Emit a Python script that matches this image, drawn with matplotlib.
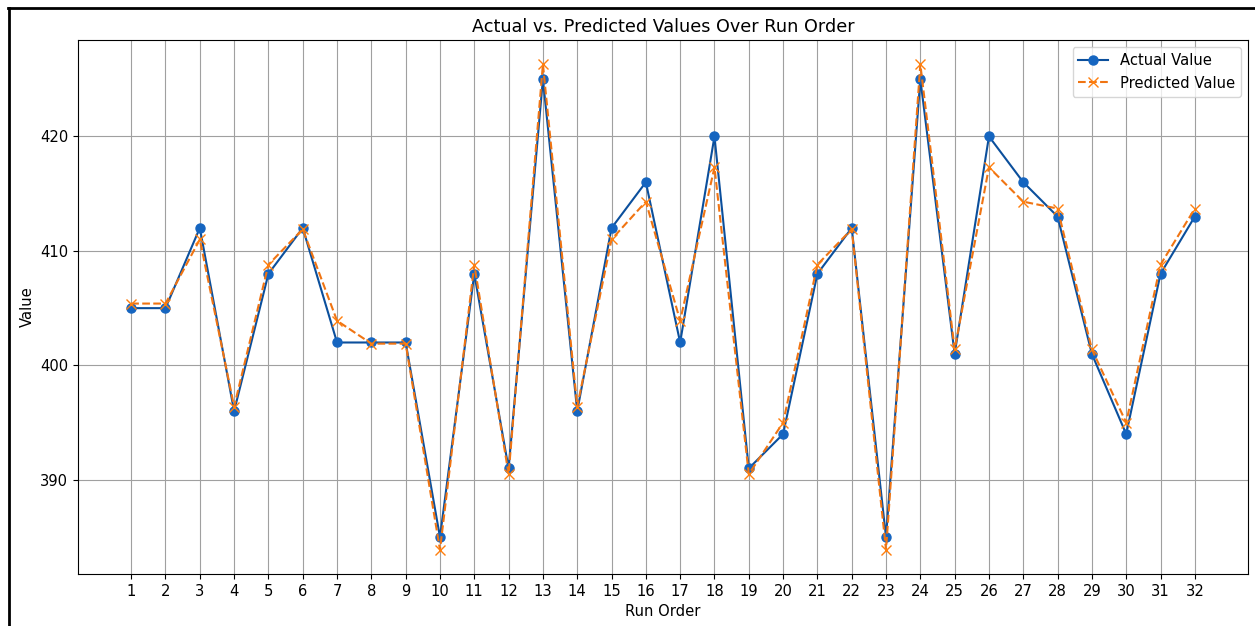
import matplotlib
matplotlib.use("Agg")
import matplotlib.pyplot as plt
from matplotlib.lines import Line2D

run_order = list(range(1, 33))

actual = [405, 405, 412, 396, 408, 412, 402, 402, 402, 385,
          408, 391, 425, 396, 412, 416, 402, 420, 391, 394,
          408, 412, 385, 425, 401, 420, 416, 413, 401, 394,
          408, 413]

predicted = [405.4, 405.4, 411.0, 396.4, 408.8, 411.9, 403.9, 401.9, 401.9, 383.9,
             408.8, 390.5, 426.3, 396.4, 411.0, 414.3, 403.9, 417.3, 390.5, 395.0,
             408.8, 411.9, 383.9, 426.3, 401.4, 417.3, 414.3, 413.7, 401.4, 395.0,
             408.8, 413.7]

ACTUAL_LINE = "#0b4f9c"
ACTUAL_MARK = "#1565c0"
PRED_LINE = "#f07412"
PRED_MARK = "#ff7f0e"

plt.rcParams["font.size"] = 10.6


def main():
    fig = plt.figure(figsize=(12.55, 6.26), dpi=100)
    ax = fig.add_axes([78 / 1255, 1 - 574 / 626, (1248 - 78) / 1255, (574 - 40) / 626])

    ax.plot(run_order, actual, marker="o", linestyle="-", color=ACTUAL_LINE,
            markerfacecolor=ACTUAL_MARK, markeredgecolor=ACTUAL_MARK,
            linewidth=1.5, markersize=6.5, label="Actual Value")
    ax.plot(run_order, predicted, marker="x", linestyle="--", color=PRED_LINE,
            markeredgecolor=PRED_MARK, linewidth=1.5, markersize=6.5,
            label="Predicted Value")

    ax.set_title("Actual vs. Predicted Values Over Run Order", fontsize=12.7)
    ax.set_xlabel("Run Order")
    ax.set_ylabel("Value")
    ax.set_xticks(run_order)
    ax.grid(True, color="#a0a0a0")
    ax.legend(loc="upper right")

    # screenshot frame on top and left
    fig.add_artist(Line2D([8 / 1255, 1.0], [1 - 8 / 626, 1 - 8 / 626],
                          transform=fig.transFigure, color="black", linewidth=2))
    fig.add_artist(Line2D([8.5 / 1255, 8.5 / 1255], [0.0, 1 - 8 / 626],
                          transform=fig.transFigure, color="black", linewidth=2))

    fig.savefig("out.png", dpi=100)


if __name__ == "__main__":
    main()
